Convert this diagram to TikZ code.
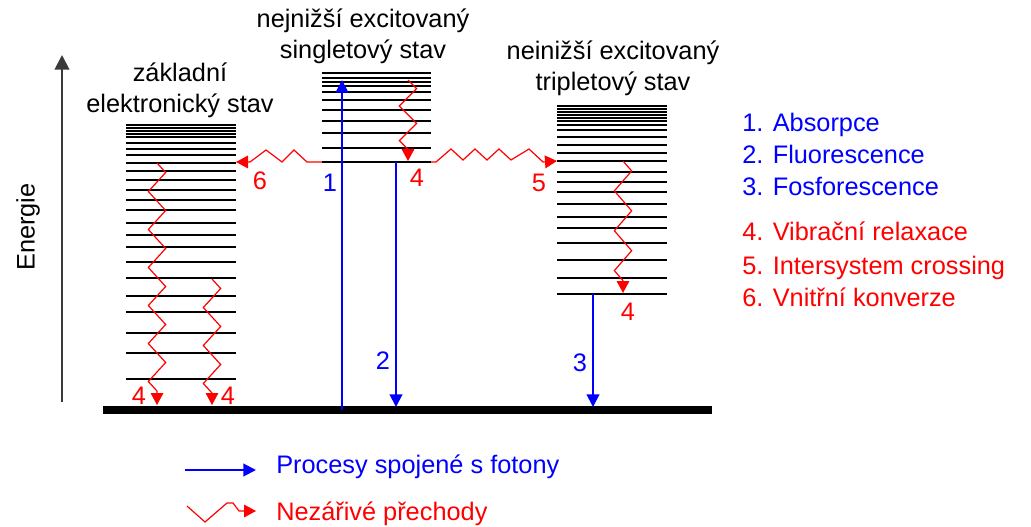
\documentclass[tikz,border=0pt]{standalone}
\usepackage{fontspec}
\setmainfont{Liberation Sans}
\usetikzlibrary{arrows.meta,decorations.pathmorphing}
\definecolor{foton}{HTML}{0000FF}
\definecolor{nezar}{HTML}{FF0000}
\definecolor{osa}{HTML}{3A3A3A}

\begin{document}
\begin{tikzpicture}[x=0.75pt, y=-0.75pt,
      hladina/.style={line width=1.5pt},
      foto/.style={-{Triangle[length=9.5pt, width=9.5pt]}, line width=1.5pt, color=foton},
      relax/.style={-{Triangle[length=9pt, width=9.5pt]}, line width=0.9pt, color=nezar},
      vlna/.style={relax, decorate, decoration={zigzag, amplitude=6.5pt, segment length=#1, post length=8pt}},
      popis/.style={inner sep=0pt, font=\fontsize{19}{23}\selectfont},
      nadpis/.style={popis, align=center, anchor=base, font=\fontsize{19}{23.5}\selectfont},
      cislo/.style={popis, text=#1}]
    \useasboundingbox (0,0) rectangle (1031,527);
    % energy axis
    \coordinate (osa0) at (62,402);
    \coordinate (osa1) at (62,55);
    \draw[-{Triangle[length=11pt, width=11pt]}, line width=1.5pt, color=osa] (osa0) -- (osa1);
    \node[popis, rotate=90] (energie) at (28,227) {Energie};
    % vibrational levels
    \foreach \y in {125,128,131,134,137,143,149,155,163,171,180,190,200,210,223,235,247,262,278,296,312,333,353,379}
      \draw[hladina] (126,\y) -- (236,\y);
    \foreach \y in {73,78,82,86,92,100,110,121,133,148,162}
      \draw[hladina] (322,\y) -- (431,\y);
    \foreach \y in {106,109,112,115,118,121,125,130,137,145,153,161,172,182,192,204,217,228,243,260,278,294}
      \draw[hladina] (557,\y) -- (667,\y);
    \draw[line width=6pt] (103,410) -- (712,410);
    % state titles
    \node[nadpis] (zakl) at (180,113) {základní\\elektronický stav};
    \node[nadpis] (singl) at (363,59) {nejnižší excitovaný\\singletový stav};
    \node[nadpis] (tripl) at (613,91) {neinižší excitovaný\\tripletový stav};
    % end points of the transitions
    \coordinate (absA) at (342,410);
    \coordinate (absB) at (342,80);
    \coordinate (flA) at (396,162);
    \coordinate (flB) at (396,407);
    \coordinate (foA) at (593,294);
    \coordinate (foB) at (593,407);
    \coordinate (S0l) at (322,162);
    \coordinate (S0r) at (431,162);
    \coordinate (Z6) at (236,162);
    \coordinate (T5) at (557,161);
    % radiative transitions
    \draw[foto] (absA) -- (absB);
    \draw[foto] (flA) -- (flB);
    \draw[foto] (foA) -- (foB);
    % non-radiative transitions
    \draw[vlna=26pt] (408,80) -- (408,161);
    \draw[vlna=29.9pt] (623,161) -- (623,293);
    \draw[vlna=28.5pt] (157,163) -- (157,405);
    \draw[vlna=28.5pt] (212,279) -- (212,405);
    \draw[relax] (S0l) -- ++(-15,0) -- ++(-13,-12) -- ++(-12,12) -- ++(-16,-12) -- ++(-16,12) -- (Z6);
    \draw[relax] (S0r) -- ++(5,0) -- ++(15,-13) -- ++(12,11) -- ++(12,-11) -- ++(12,11) -- ++(12,-11)
      -- ++(12,11) -- ++(18,-11) -- ++(14,13) -- (T5);
    % numbers
    \node[cislo=foton] (n1) at (330,183) {1};
    \node[cislo=foton] (n2) at (383,361) {2};
    \node[cislo=foton] (n3) at (580,363) {3};
    \node[cislo=nezar] (n4s) at (417,178) {4};
    \node[cislo=nezar] (n4t) at (628,312) {4};
    \node[cislo=nezar] (n4a) at (139,396) {4};
    \node[cislo=nezar] (n4b) at (228,396) {4};
    \node[cislo=nezar] (n5) at (539,183) {5};
    \node[cislo=nezar] (n6) at (260,181) {6};
    % legend
    \node[cislo=foton, anchor=base west] (l1) at (742,132) {1. Absorpce};
    \node[cislo=foton, anchor=base west] (l2) at (742,164) {2. Fluorescence};
    \node[cislo=foton, anchor=base west] (l3) at (742,196) {3. Fosforescence};
    \node[cislo=nezar, anchor=base west] (l4) at (742,241) {4. Vibrační relaxace};
    \node[cislo=nezar, anchor=base west] (l5) at (742,274) {5. Intersystem crossing};
    \node[cislo=nezar, anchor=base west] (l6) at (742,306) {6. Vnitřní konverze};
    \coordinate (Lb1) at (185,470);
    \coordinate (Lb2) at (256,470);
    \coordinate (Lr1) at (187,506);
    \coordinate (Lr2) at (256,511);
    \draw[foto] (Lb1) -- (Lb2);
    \draw[relax] (Lr1) -- ++(18,16) -- ++(22,-19) -- ++(6,0) -- ++(6,8) -- (Lr2);
    \node[cislo=foton, anchor=base west] (lfot) at (276,473) {Procesy spojené s fotony};
    \node[cislo=nezar, anchor=base west] (lnez) at (276,520) {Nezářivé přechody};
  \end{tikzpicture}
\end{document}
